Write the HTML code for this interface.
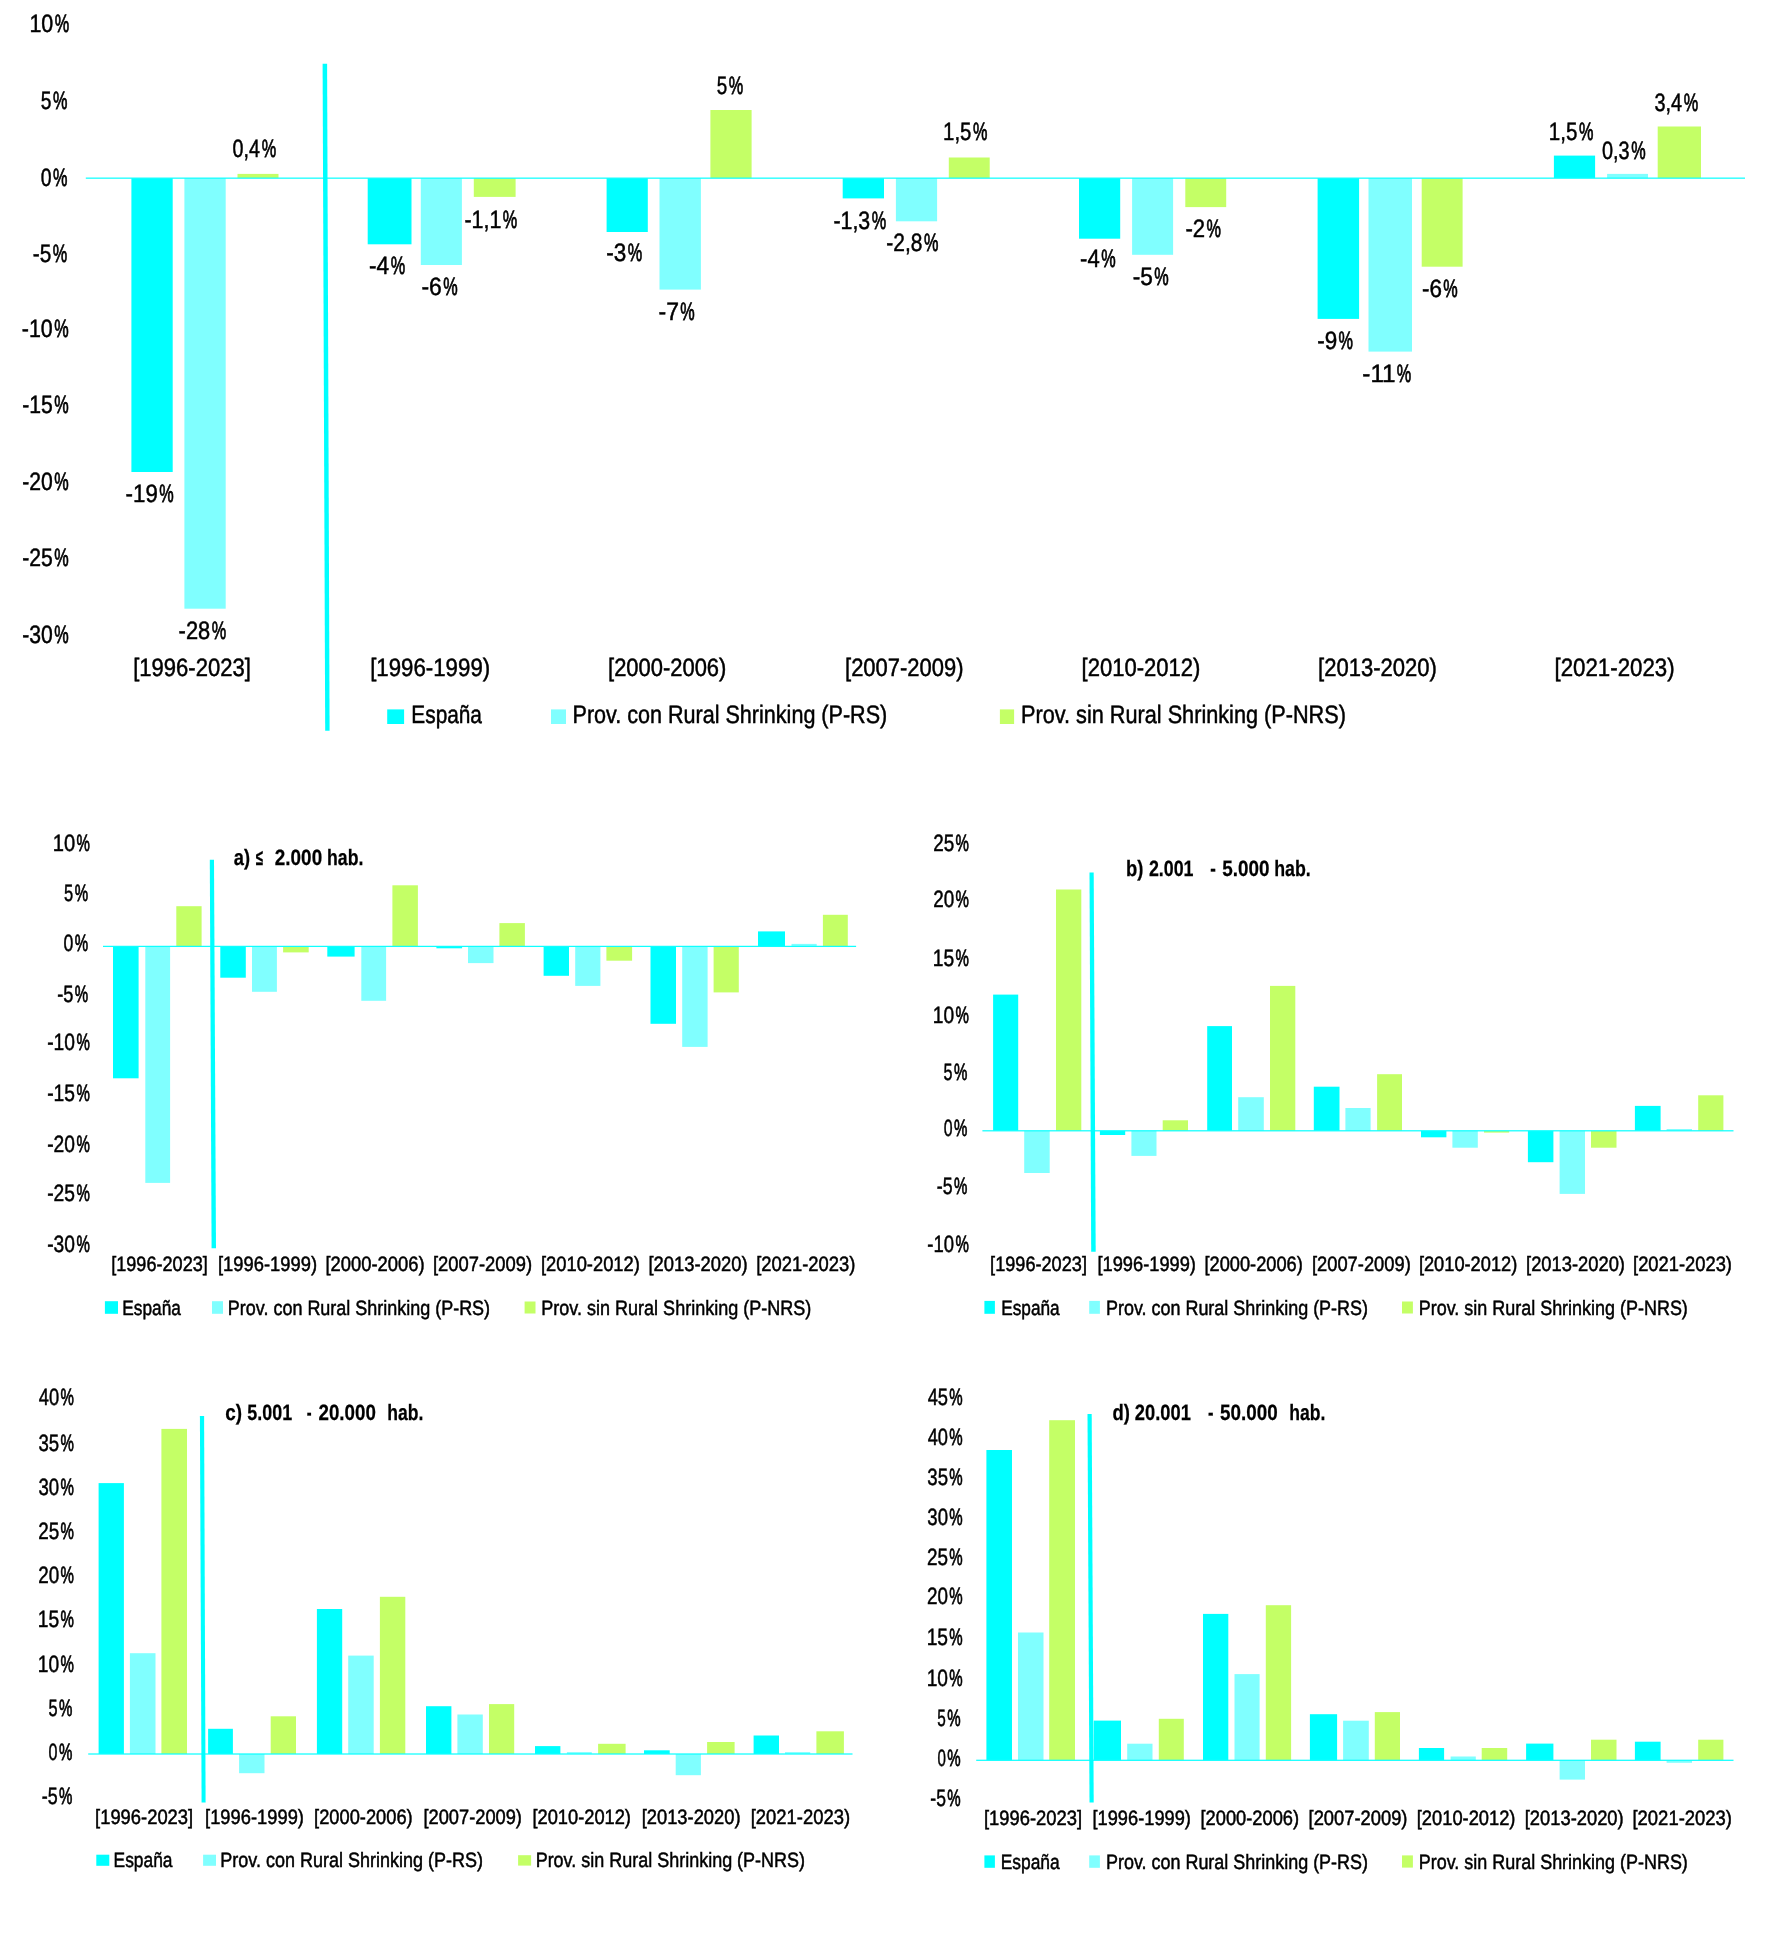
<!DOCTYPE html>
<html><head><meta charset="utf-8"><title>Chart</title>
<style>html,body{margin:0;padding:0;background:#fff;width:1772px;height:1939px;overflow:hidden}svg{display:block}text{font-family:"Liberation Sans",sans-serif;fill:#000;text-rendering:geometricPrecision}</style></head>
<body><svg style="will-change:transform" width="1772" height="1939" viewBox="0 0 1772 1939">
<rect width="1772" height="1939" fill="#fff"/>
<rect x="131.4" y="178.15" width="41.3" height="293.85" fill="#00FFFF"/>
<rect x="184.4" y="178.15" width="41.3" height="430.55" fill="#80FFFF"/>
<rect x="237.5" y="173.9" width="41" height="4.25" fill="#C4FF66"/>
<rect x="367.7" y="178.15" width="43.8" height="66.15" fill="#00FFFF"/>
<rect x="420.8" y="178.15" width="41.1" height="86.85" fill="#80FFFF"/>
<rect x="473.8" y="178.15" width="41.8" height="18.75" fill="#C4FF66"/>
<rect x="606.6" y="178.15" width="41.2" height="53.85" fill="#00FFFF"/>
<rect x="659.5" y="178.15" width="41.4" height="111.45" fill="#80FFFF"/>
<rect x="710.4" y="110" width="41.2" height="68.15" fill="#C4FF66"/>
<rect x="842.7" y="178.15" width="41.3" height="20.25" fill="#00FFFF"/>
<rect x="895.9" y="178.15" width="41.2" height="43.15" fill="#80FFFF"/>
<rect x="948.8" y="157.5" width="40.9" height="20.65" fill="#C4FF66"/>
<rect x="1079" y="178.15" width="41.2" height="60.55" fill="#00FFFF"/>
<rect x="1132.1" y="178.15" width="41" height="76.65" fill="#80FFFF"/>
<rect x="1185.3" y="178.15" width="40.9" height="28.95" fill="#C4FF66"/>
<rect x="1317.6" y="178.15" width="41.5" height="140.75" fill="#00FFFF"/>
<rect x="1368.5" y="178.15" width="43.5" height="173.45" fill="#80FFFF"/>
<rect x="1421.7" y="178.15" width="40.9" height="88.55" fill="#C4FF66"/>
<rect x="1553.9" y="155.6" width="41.2" height="22.55" fill="#00FFFF"/>
<rect x="1607.1" y="173.9" width="40.9" height="4.25" fill="#80FFFF"/>
<rect x="1657.7" y="126.5" width="43.3" height="51.65" fill="#C4FF66"/>
<rect x="113" y="946.4" width="25.6" height="131.9" fill="#00FFFF"/>
<rect x="145.3" y="946.4" width="24.8" height="236.5" fill="#80FFFF"/>
<rect x="176.3" y="906.2" width="25.3" height="40.2" fill="#C4FF66"/>
<rect x="220.3" y="946.4" width="25.5" height="31.3" fill="#00FFFF"/>
<rect x="252" y="946.4" width="24.9" height="45.4" fill="#80FFFF"/>
<rect x="283.1" y="946.4" width="25.6" height="6" fill="#C4FF66"/>
<rect x="327.3" y="946.4" width="27.3" height="10.2" fill="#00FFFF"/>
<rect x="361.3" y="946.4" width="24.8" height="54.4" fill="#80FFFF"/>
<rect x="392.4" y="885.3" width="25.5" height="61.1" fill="#C4FF66"/>
<rect x="436.4" y="946.4" width="25.7" height="1.9" fill="#00FFFF"/>
<rect x="468" y="946.4" width="25.5" height="16.7" fill="#80FFFF"/>
<rect x="499.4" y="923.1" width="25.5" height="23.3" fill="#C4FF66"/>
<rect x="543.6" y="946.4" width="25.4" height="29.4" fill="#00FFFF"/>
<rect x="575.2" y="946.4" width="25.2" height="39.5" fill="#80FFFF"/>
<rect x="606.4" y="946.4" width="25.7" height="14.3" fill="#C4FF66"/>
<rect x="650.5" y="946.4" width="25.5" height="77.4" fill="#00FFFF"/>
<rect x="682.2" y="946.4" width="25.4" height="100.5" fill="#80FFFF"/>
<rect x="713.6" y="946.4" width="25.2" height="46" fill="#C4FF66"/>
<rect x="758" y="931.4" width="27" height="15" fill="#00FFFF"/>
<rect x="791.5" y="943.9" width="25.2" height="2.5" fill="#80FFFF"/>
<rect x="822.9" y="914.8" width="24.9" height="31.6" fill="#C4FF66"/>
<rect x="993.1" y="994.6" width="25.1" height="136.2" fill="#00FFFF"/>
<rect x="1024.2" y="1130.8" width="25.5" height="42.2" fill="#80FFFF"/>
<rect x="1056" y="889.5" width="25.3" height="241.3" fill="#C4FF66"/>
<rect x="1099.9" y="1130.8" width="25.3" height="4.2" fill="#00FFFF"/>
<rect x="1131.4" y="1130.8" width="25.1" height="25.1" fill="#80FFFF"/>
<rect x="1162.7" y="1120.3" width="25.3" height="10.5" fill="#C4FF66"/>
<rect x="1207.2" y="1026.1" width="24.8" height="104.7" fill="#00FFFF"/>
<rect x="1238.2" y="1097.2" width="25.6" height="33.6" fill="#80FFFF"/>
<rect x="1270" y="985.9" width="25.3" height="144.9" fill="#C4FF66"/>
<rect x="1313.8" y="1086.7" width="25.7" height="44.1" fill="#00FFFF"/>
<rect x="1345.4" y="1108" width="25.2" height="22.8" fill="#80FFFF"/>
<rect x="1377.1" y="1074.2" width="24.9" height="56.6" fill="#C4FF66"/>
<rect x="1421" y="1130.8" width="25.4" height="6.5" fill="#00FFFF"/>
<rect x="1452.4" y="1130.8" width="25.4" height="16.9" fill="#80FFFF"/>
<rect x="1484" y="1130.8" width="25.2" height="1.8" fill="#C4FF66"/>
<rect x="1527.9" y="1130.8" width="25.5" height="31.4" fill="#00FFFF"/>
<rect x="1559.6" y="1130.8" width="25.4" height="63.1" fill="#80FFFF"/>
<rect x="1591" y="1130.8" width="25.5" height="16.9" fill="#C4FF66"/>
<rect x="1634.9" y="1105.9" width="25.7" height="24.9" fill="#00FFFF"/>
<rect x="1666.6" y="1129" width="25.4" height="1.8" fill="#80FFFF"/>
<rect x="1698.2" y="1095.3" width="25.2" height="35.5" fill="#C4FF66"/>
<rect x="98.6" y="1483.1" width="25.3" height="270.9" fill="#00FFFF"/>
<rect x="129.9" y="1653.2" width="25.6" height="100.8" fill="#80FFFF"/>
<rect x="161.4" y="1428.9" width="25.6" height="325.1" fill="#C4FF66"/>
<rect x="208.1" y="1728.8" width="24.8" height="25.2" fill="#00FFFF"/>
<rect x="239.1" y="1754" width="25.4" height="19.2" fill="#80FFFF"/>
<rect x="270.7" y="1716.3" width="25.3" height="37.7" fill="#C4FF66"/>
<rect x="316.9" y="1609" width="25.3" height="145" fill="#00FFFF"/>
<rect x="348.2" y="1655.6" width="25.5" height="98.4" fill="#80FFFF"/>
<rect x="379.9" y="1596.8" width="25.4" height="157.2" fill="#C4FF66"/>
<rect x="426" y="1706.2" width="25.4" height="47.8" fill="#00FFFF"/>
<rect x="457.4" y="1714.5" width="25.4" height="39.5" fill="#80FFFF"/>
<rect x="489" y="1704.1" width="25.2" height="49.9" fill="#C4FF66"/>
<rect x="535" y="1746.1" width="25.4" height="7.9" fill="#00FFFF"/>
<rect x="566.9" y="1752.1" width="24.9" height="1.9" fill="#80FFFF"/>
<rect x="598.1" y="1743.8" width="27.5" height="10.2" fill="#C4FF66"/>
<rect x="644" y="1750.3" width="25.7" height="3.7" fill="#00FFFF"/>
<rect x="675.7" y="1754" width="25.2" height="21.2" fill="#80FFFF"/>
<rect x="707.1" y="1742" width="27.5" height="12" fill="#C4FF66"/>
<rect x="753.6" y="1735.5" width="25.4" height="18.5" fill="#00FFFF"/>
<rect x="785" y="1752.1" width="25.2" height="1.9" fill="#80FFFF"/>
<rect x="816.4" y="1731.3" width="27.5" height="22.7" fill="#C4FF66"/>
<rect x="986.4" y="1450" width="25.6" height="310.3" fill="#00FFFF"/>
<rect x="1018" y="1632.5" width="25.5" height="127.8" fill="#80FFFF"/>
<rect x="1049.2" y="1420.2" width="25.8" height="340.1" fill="#C4FF66"/>
<rect x="1093.7" y="1720.6" width="27.3" height="39.7" fill="#00FFFF"/>
<rect x="1127.2" y="1743.7" width="25.3" height="16.6" fill="#80FFFF"/>
<rect x="1158.8" y="1718.8" width="25" height="41.5" fill="#C4FF66"/>
<rect x="1203" y="1613.9" width="25.3" height="146.4" fill="#00FFFF"/>
<rect x="1234.5" y="1674.1" width="25.1" height="86.2" fill="#80FFFF"/>
<rect x="1265.8" y="1605.2" width="25.3" height="155.1" fill="#C4FF66"/>
<rect x="1309.9" y="1714.2" width="27.2" height="46.1" fill="#00FFFF"/>
<rect x="1343.1" y="1720.7" width="25.7" height="39.6" fill="#80FFFF"/>
<rect x="1374.8" y="1712.1" width="25.2" height="48.2" fill="#C4FF66"/>
<rect x="1418.9" y="1748" width="25.2" height="12.3" fill="#00FFFF"/>
<rect x="1450.6" y="1756.5" width="25.2" height="3.8" fill="#80FFFF"/>
<rect x="1481.7" y="1748" width="25.5" height="12.3" fill="#C4FF66"/>
<rect x="1526.1" y="1743.6" width="27.3" height="16.7" fill="#00FFFF"/>
<rect x="1559.6" y="1760.3" width="25.4" height="19.3" fill="#80FFFF"/>
<rect x="1591" y="1739.7" width="25.5" height="20.6" fill="#C4FF66"/>
<rect x="1634.9" y="1741.7" width="25.7" height="18.6" fill="#00FFFF"/>
<rect x="1666.6" y="1760.3" width="25.4" height="2.5" fill="#80FFFF"/>
<rect x="1698.2" y="1739.7" width="25.2" height="20.6" fill="#C4FF66"/>
<rect x="85.8" y="177.53" width="1659.2" height="1.25" fill="#10FFFF"/>
<polygon points="322.6,63.7 327.1,63.7 329.6,730.8 325.2,730.8" fill="#00FFFF"/>
<rect x="103" y="945.77" width="753.1" height="1.25" fill="#10FFFF"/>
<polygon points="209.8,859.7 214,859.7 216,1248.2 211.6,1248.2" fill="#00FFFF"/>
<rect x="982.4" y="1130.17" width="751.1" height="1.25" fill="#10FFFF"/>
<polygon points="1089.5,872.6 1093.7,872.6 1095.7,1251.7 1091.2,1251.7" fill="#00FFFF"/>
<rect x="88.2" y="1753.38" width="764.3" height="1.25" fill="#10FFFF"/>
<polygon points="199.9,1416 204.1,1416 205.6,1802.5 201.6,1802.5" fill="#00FFFF"/>
<rect x="976.2" y="1759.67" width="757.3" height="1.25" fill="#10FFFF"/>
<polygon points="1087.5,1414 1091.7,1414 1093.7,1802.5 1089.5,1802.5" fill="#00FFFF"/>
<rect x="387.2" y="709.4" width="16.9" height="14.6" fill="#00FFFF"/>
<rect x="551" y="709.4" width="15" height="14.6" fill="#80FFFF"/>
<rect x="999.9" y="709.4" width="14.2" height="14.6" fill="#C4FF66"/>
<rect x="104.9" y="1301.2" width="13.1" height="12.6" fill="#00FFFF"/>
<rect x="212" y="1301.2" width="11" height="12.6" fill="#80FFFF"/>
<rect x="524.6" y="1301.5" width="10.9" height="12" fill="#C4FF66"/>
<rect x="984.4" y="1300.9" width="10.5" height="12.9" fill="#00FFFF"/>
<rect x="1089.2" y="1300.9" width="10.7" height="12.9" fill="#80FFFF"/>
<rect x="1402" y="1301.5" width="10.9" height="12" fill="#C4FF66"/>
<rect x="96.3" y="1854.7" width="13" height="11.1" fill="#00FFFF"/>
<rect x="203.1" y="1854.7" width="12.9" height="11.1" fill="#80FFFF"/>
<rect x="518.1" y="1855.2" width="13" height="10.4" fill="#C4FF66"/>
<rect x="984.4" y="1855.4" width="10.5" height="12.4" fill="#00FFFF"/>
<rect x="1089.2" y="1855.4" width="10.7" height="12.4" fill="#80FFFF"/>
<rect x="1402" y="1855.4" width="10.9" height="12.2" fill="#C4FF66"/>
<text transform="matrix(0.8527 0 0 1 29.41 32.00)" font-size="25.2" stroke="#000" stroke-width="0.5" xml:space="preserve">10</text>
<text transform="matrix(0.6441 0 0 1 54.83 32.00)" font-size="25.2" stroke="#000" stroke-width="0.8" xml:space="preserve">%</text>
<text transform="matrix(0.7622 0 0 1 40.81 108.90)" font-size="25.2" stroke="#000" stroke-width="0.5" xml:space="preserve">5</text>
<text transform="matrix(0.6441 0 0 1 53.03 108.90)" font-size="25.2" stroke="#000" stroke-width="0.8" xml:space="preserve">%</text>
<text transform="matrix(0.7708 0 0 1 40.64 185.90)" font-size="25.2" stroke="#000" stroke-width="0.5" xml:space="preserve">0</text>
<text transform="matrix(0.6441 0 0 1 53.03 185.90)" font-size="25.2" stroke="#000" stroke-width="0.8" xml:space="preserve">%</text>
<text transform="matrix(0.8251 0 0 1 32.86 261.60)" font-size="25.2" stroke="#000" stroke-width="0.5" xml:space="preserve">-5</text>
<text transform="matrix(0.6441 0 0 1 52.83 261.60)" font-size="25.2" stroke="#000" stroke-width="0.8" xml:space="preserve">%</text>
<text transform="matrix(0.8482 0 0 1 21.84 337.20)" font-size="25.2" stroke="#000" stroke-width="0.5" xml:space="preserve">-10</text>
<text transform="matrix(0.6441 0 0 1 54.23 337.20)" font-size="25.2" stroke="#000" stroke-width="0.8" xml:space="preserve">%</text>
<text transform="matrix(0.8410 0 0 1 22.15 413.00)" font-size="25.2" stroke="#000" stroke-width="0.5" xml:space="preserve">-15</text>
<text transform="matrix(0.6441 0 0 1 54.23 413.00)" font-size="25.2" stroke="#000" stroke-width="0.8" xml:space="preserve">%</text>
<text transform="matrix(0.8396 0 0 1 22.15 489.90)" font-size="25.2" stroke="#000" stroke-width="0.5" xml:space="preserve">-20</text>
<text transform="matrix(0.6441 0 0 1 54.23 489.90)" font-size="25.2" stroke="#000" stroke-width="0.8" xml:space="preserve">%</text>
<text transform="matrix(0.8410 0 0 1 22.15 566.20)" font-size="25.2" stroke="#000" stroke-width="0.5" xml:space="preserve">-25</text>
<text transform="matrix(0.6441 0 0 1 54.23 566.20)" font-size="25.2" stroke="#000" stroke-width="0.8" xml:space="preserve">%</text>
<text transform="matrix(0.8396 0 0 1 22.15 643.20)" font-size="25.2" stroke="#000" stroke-width="0.5" xml:space="preserve">-30</text>
<text transform="matrix(0.6441 0 0 1 54.23 643.20)" font-size="25.2" stroke="#000" stroke-width="0.8" xml:space="preserve">%</text>
<text transform="matrix(0.8838 0 0 1 125.60 501.80)" font-size="25.2" stroke="#000" stroke-width="0.5" xml:space="preserve">-19</text>
<text transform="matrix(0.6441 0 0 1 159.13 501.80)" font-size="25.2" stroke="#000" stroke-width="0.8" xml:space="preserve">%</text>
<text transform="matrix(0.8676 0 0 1 178.62 639.20)" font-size="25.2" stroke="#000" stroke-width="0.5" xml:space="preserve">-28</text>
<text transform="matrix(0.6441 0 0 1 211.63 639.20)" font-size="25.2" stroke="#000" stroke-width="0.8" xml:space="preserve">%</text>
<text transform="matrix(0.7808 0 0 1 232.54 156.70)" font-size="25.2" stroke="#000" stroke-width="0.5" xml:space="preserve">0,4</text>
<text transform="matrix(0.6441 0 0 1 261.63 156.70)" font-size="25.2" stroke="#000" stroke-width="0.8" xml:space="preserve">%</text>
<text transform="matrix(0.8989 0 0 1 369.08 273.80)" font-size="25.2" stroke="#000" stroke-width="0.5" xml:space="preserve">-4</text>
<text transform="matrix(0.6441 0 0 1 390.83 273.80)" font-size="25.2" stroke="#000" stroke-width="0.8" xml:space="preserve">%</text>
<text transform="matrix(0.9092 0 0 1 421.47 294.80)" font-size="25.2" stroke="#000" stroke-width="0.5" xml:space="preserve">-6</text>
<text transform="matrix(0.6441 0 0 1 443.23 294.80)" font-size="25.2" stroke="#000" stroke-width="0.8" xml:space="preserve">%</text>
<text transform="matrix(0.8521 0 0 1 464.43 227.60)" font-size="25.2" stroke="#000" stroke-width="0.5" xml:space="preserve">-1,1</text>
<text transform="matrix(0.6441 0 0 1 502.83 227.60)" font-size="25.2" stroke="#000" stroke-width="0.8" xml:space="preserve">%</text>
<text transform="matrix(0.8942 0 0 1 606.19 261.20)" font-size="25.2" stroke="#000" stroke-width="0.5" xml:space="preserve">-3</text>
<text transform="matrix(0.6441 0 0 1 627.63 261.20)" font-size="25.2" stroke="#000" stroke-width="0.8" xml:space="preserve">%</text>
<text transform="matrix(0.9135 0 0 1 658.56 319.60)" font-size="25.2" stroke="#000" stroke-width="0.5" xml:space="preserve">-7</text>
<text transform="matrix(0.6441 0 0 1 680.33 319.60)" font-size="25.2" stroke="#000" stroke-width="0.8" xml:space="preserve">%</text>
<text transform="matrix(0.7458 0 0 1 716.73 93.60)" font-size="25.2" stroke="#000" stroke-width="0.5" xml:space="preserve">5</text>
<text transform="matrix(0.6441 0 0 1 728.73 93.60)" font-size="25.2" stroke="#000" stroke-width="0.8" xml:space="preserve">%</text>
<text transform="matrix(0.8466 0 0 1 833.44 228.90)" font-size="25.2" stroke="#000" stroke-width="0.5" xml:space="preserve">-1,3</text>
<text transform="matrix(0.6441 0 0 1 871.63 228.90)" font-size="25.2" stroke="#000" stroke-width="0.8" xml:space="preserve">%</text>
<text transform="matrix(0.8322 0 0 1 886.36 251.20)" font-size="25.2" stroke="#000" stroke-width="0.5" xml:space="preserve">-2,8</text>
<text transform="matrix(0.6441 0 0 1 923.93 251.20)" font-size="25.2" stroke="#000" stroke-width="0.8" xml:space="preserve">%</text>
<text transform="matrix(0.8096 0 0 1 943.08 139.50)" font-size="25.2" stroke="#000" stroke-width="0.5" xml:space="preserve">1,5</text>
<text transform="matrix(0.6441 0 0 1 972.93 139.50)" font-size="25.2" stroke="#000" stroke-width="0.8" xml:space="preserve">%</text>
<text transform="matrix(0.8748 0 0 1 1080.11 267.40)" font-size="25.2" stroke="#000" stroke-width="0.5" xml:space="preserve">-4</text>
<text transform="matrix(0.6441 0 0 1 1101.33 267.40)" font-size="25.2" stroke="#000" stroke-width="0.8" xml:space="preserve">%</text>
<text transform="matrix(0.8981 0 0 1 1132.68 284.80)" font-size="25.2" stroke="#000" stroke-width="0.5" xml:space="preserve">-5</text>
<text transform="matrix(0.6441 0 0 1 1154.23 284.80)" font-size="25.2" stroke="#000" stroke-width="0.8" xml:space="preserve">%</text>
<text transform="matrix(0.8781 0 0 1 1185.40 236.90)" font-size="25.2" stroke="#000" stroke-width="0.5" xml:space="preserve">-2</text>
<text transform="matrix(0.6441 0 0 1 1206.43 236.90)" font-size="25.2" stroke="#000" stroke-width="0.8" xml:space="preserve">%</text>
<text transform="matrix(0.8923 0 0 1 1317.19 348.90)" font-size="25.2" stroke="#000" stroke-width="0.5" xml:space="preserve">-9</text>
<text transform="matrix(0.6441 0 0 1 1338.53 348.90)" font-size="25.2" stroke="#000" stroke-width="0.8" xml:space="preserve">%</text>
<text transform="matrix(0.9649 0 0 1 1362.31 381.60)" font-size="25.2" stroke="#000" stroke-width="0.5" xml:space="preserve">-11</text>
<text transform="matrix(0.6441 0 0 1 1396.83 381.60)" font-size="25.2" stroke="#000" stroke-width="0.8" xml:space="preserve">%</text>
<text transform="matrix(0.8897 0 0 1 1421.99 296.50)" font-size="25.2" stroke="#000" stroke-width="0.5" xml:space="preserve">-6</text>
<text transform="matrix(0.6441 0 0 1 1443.33 296.50)" font-size="25.2" stroke="#000" stroke-width="0.8" xml:space="preserve">%</text>
<text transform="matrix(0.8157 0 0 1 1548.87 139.80)" font-size="25.2" stroke="#000" stroke-width="0.5" xml:space="preserve">1,5</text>
<text transform="matrix(0.6441 0 0 1 1578.93 139.80)" font-size="25.2" stroke="#000" stroke-width="0.8" xml:space="preserve">%</text>
<text transform="matrix(0.7887 0 0 1 1602.03 158.60)" font-size="25.2" stroke="#000" stroke-width="0.5" xml:space="preserve">0,3</text>
<text transform="matrix(0.6441 0 0 1 1631.13 158.60)" font-size="25.2" stroke="#000" stroke-width="0.8" xml:space="preserve">%</text>
<text transform="matrix(0.7877 0 0 1 1654.50 111.20)" font-size="25.2" stroke="#000" stroke-width="0.5" xml:space="preserve">3,4</text>
<text transform="matrix(0.6441 0 0 1 1683.83 111.20)" font-size="25.2" stroke="#000" stroke-width="0.8" xml:space="preserve">%</text>
<text transform="matrix(0.8751 0 0 1 133.14 675.80)" font-size="25.2" stroke="#000" stroke-width="0.5" xml:space="preserve">[1996-2023]</text>
<text transform="matrix(0.8837 0 0 1 370.13 675.80)" font-size="25.2" stroke="#000" stroke-width="0.5" xml:space="preserve">[1996-1999)</text>
<text transform="matrix(0.8709 0 0 1 608.05 675.80)" font-size="25.2" stroke="#000" stroke-width="0.5" xml:space="preserve">[2000-2006)</text>
<text transform="matrix(0.8717 0 0 1 845.05 675.80)" font-size="25.2" stroke="#000" stroke-width="0.5" xml:space="preserve">[2007-2009)</text>
<text transform="matrix(0.8754 0 0 1 1081.54 675.80)" font-size="25.2" stroke="#000" stroke-width="0.5" xml:space="preserve">[2010-2012)</text>
<text transform="matrix(0.8754 0 0 1 1318.04 675.80)" font-size="25.2" stroke="#000" stroke-width="0.5" xml:space="preserve">[2013-2020)</text>
<text transform="matrix(0.8837 0 0 1 1554.53 675.80)" font-size="25.2" stroke="#000" stroke-width="0.5" xml:space="preserve">[2021-2023)</text>
<text transform="matrix(0.8259 0 0 1 411.36 723.20)" font-size="25.2" stroke="#000" stroke-width="0.5" xml:space="preserve">España</text>
<text transform="matrix(0.8560 0 0 1 572.51 723.20)" font-size="25.2" stroke="#000" stroke-width="0.5" xml:space="preserve">Prov. con Rural Shrinking (P-RS)</text>
<text transform="matrix(0.8606 0 0 1 1021.10 723.20)" font-size="25.2" stroke="#000" stroke-width="0.5" xml:space="preserve">Prov. sin Rural Shrinking (P-NRS)</text>
<text transform="matrix(0.8539 0 0 1 52.69 850.70)" font-size="23.6" stroke="#000" stroke-width="0.5" xml:space="preserve">10</text>
<text transform="matrix(0.6381 0 0 1 76.45 850.70)" font-size="23.6" stroke="#000" stroke-width="0.8" xml:space="preserve">%</text>
<text transform="matrix(0.6999 0 0 1 64.07 900.90)" font-size="23.6" stroke="#000" stroke-width="0.5" xml:space="preserve">5</text>
<text transform="matrix(0.6381 0 0 1 74.75 900.90)" font-size="23.6" stroke="#000" stroke-width="0.8" xml:space="preserve">%</text>
<text transform="matrix(0.7489 0 0 1 63.41 951.10)" font-size="23.6" stroke="#000" stroke-width="0.5" xml:space="preserve">0</text>
<text transform="matrix(0.6381 0 0 1 74.75 951.10)" font-size="23.6" stroke="#000" stroke-width="0.8" xml:space="preserve">%</text>
<text transform="matrix(0.7728 0 0 1 57.13 1002.20)" font-size="23.6" stroke="#000" stroke-width="0.5" xml:space="preserve">-5</text>
<text transform="matrix(0.6381 0 0 1 74.75 1002.20)" font-size="23.6" stroke="#000" stroke-width="0.8" xml:space="preserve">%</text>
<text transform="matrix(0.8141 0 0 1 47.20 1050.40)" font-size="23.6" stroke="#000" stroke-width="0.5" xml:space="preserve">-10</text>
<text transform="matrix(0.6381 0 0 1 76.45 1050.40)" font-size="23.6" stroke="#000" stroke-width="0.8" xml:space="preserve">%</text>
<text transform="matrix(0.8157 0 0 1 47.20 1101.20)" font-size="23.6" stroke="#000" stroke-width="0.5" xml:space="preserve">-15</text>
<text transform="matrix(0.6381 0 0 1 76.45 1101.20)" font-size="23.6" stroke="#000" stroke-width="0.8" xml:space="preserve">%</text>
<text transform="matrix(0.8141 0 0 1 47.20 1151.60)" font-size="23.6" stroke="#000" stroke-width="0.5" xml:space="preserve">-20</text>
<text transform="matrix(0.6381 0 0 1 76.45 1151.60)" font-size="23.6" stroke="#000" stroke-width="0.8" xml:space="preserve">%</text>
<text transform="matrix(0.8157 0 0 1 47.20 1201.20)" font-size="23.6" stroke="#000" stroke-width="0.5" xml:space="preserve">-25</text>
<text transform="matrix(0.6381 0 0 1 76.45 1201.20)" font-size="23.6" stroke="#000" stroke-width="0.8" xml:space="preserve">%</text>
<text transform="matrix(0.8141 0 0 1 47.20 1252.20)" font-size="23.6" stroke="#000" stroke-width="0.5" xml:space="preserve">-30</text>
<text transform="matrix(0.6381 0 0 1 76.45 1252.20)" font-size="23.6" stroke="#000" stroke-width="0.8" xml:space="preserve">%</text>
<text transform="matrix(0.8008 0 0 1 933.20 850.70)" font-size="23.6" stroke="#000" stroke-width="0.5" xml:space="preserve">25</text>
<text transform="matrix(0.6381 0 0 1 955.55 850.70)" font-size="23.6" stroke="#000" stroke-width="0.8" xml:space="preserve">%</text>
<text transform="matrix(0.7988 0 0 1 933.20 907.10)" font-size="23.6" stroke="#000" stroke-width="0.5" xml:space="preserve">20</text>
<text transform="matrix(0.6381 0 0 1 955.55 907.10)" font-size="23.6" stroke="#000" stroke-width="0.8" xml:space="preserve">%</text>
<text transform="matrix(0.8143 0 0 1 932.85 965.50)" font-size="23.6" stroke="#000" stroke-width="0.5" xml:space="preserve">15</text>
<text transform="matrix(0.6381 0 0 1 955.55 965.50)" font-size="23.6" stroke="#000" stroke-width="0.8" xml:space="preserve">%</text>
<text transform="matrix(0.8122 0 0 1 932.86 1023.10)" font-size="23.6" stroke="#000" stroke-width="0.5" xml:space="preserve">10</text>
<text transform="matrix(0.6381 0 0 1 955.55 1023.10)" font-size="23.6" stroke="#000" stroke-width="0.8" xml:space="preserve">%</text>
<text transform="matrix(0.6828 0 0 1 943.58 1080.20)" font-size="23.6" stroke="#000" stroke-width="0.5" xml:space="preserve">5</text>
<text transform="matrix(0.6381 0 0 1 954.05 1080.20)" font-size="23.6" stroke="#000" stroke-width="0.8" xml:space="preserve">%</text>
<text transform="matrix(0.6732 0 0 1 943.66 1135.90)" font-size="23.6" stroke="#000" stroke-width="0.5" xml:space="preserve">0</text>
<text transform="matrix(0.6381 0 0 1 954.05 1135.90)" font-size="23.6" stroke="#000" stroke-width="0.8" xml:space="preserve">%</text>
<text transform="matrix(0.7524 0 0 1 936.84 1194.30)" font-size="23.6" stroke="#000" stroke-width="0.5" xml:space="preserve">-5</text>
<text transform="matrix(0.6381 0 0 1 954.05 1194.30)" font-size="23.6" stroke="#000" stroke-width="0.8" xml:space="preserve">%</text>
<text transform="matrix(0.7836 0 0 1 927.32 1251.90)" font-size="23.6" stroke="#000" stroke-width="0.5" xml:space="preserve">-10</text>
<text transform="matrix(0.6381 0 0 1 955.55 1251.90)" font-size="23.6" stroke="#000" stroke-width="0.8" xml:space="preserve">%</text>
<text transform="matrix(0.7743 0 0 1 38.83 1405.00)" font-size="23.6" stroke="#000" stroke-width="0.5" xml:space="preserve">40</text>
<text transform="matrix(0.6381 0 0 1 60.55 1405.00)" font-size="23.6" stroke="#000" stroke-width="0.8" xml:space="preserve">%</text>
<text transform="matrix(0.7890 0 0 1 38.50 1451.00)" font-size="23.6" stroke="#000" stroke-width="0.5" xml:space="preserve">35</text>
<text transform="matrix(0.6381 0 0 1 60.55 1451.00)" font-size="23.6" stroke="#000" stroke-width="0.8" xml:space="preserve">%</text>
<text transform="matrix(0.7870 0 0 1 38.50 1494.90)" font-size="23.6" stroke="#000" stroke-width="0.5" xml:space="preserve">30</text>
<text transform="matrix(0.6381 0 0 1 60.55 1494.90)" font-size="23.6" stroke="#000" stroke-width="0.8" xml:space="preserve">%</text>
<text transform="matrix(0.8008 0 0 1 38.20 1539.10)" font-size="23.6" stroke="#000" stroke-width="0.5" xml:space="preserve">25</text>
<text transform="matrix(0.6381 0 0 1 60.55 1539.10)" font-size="23.6" stroke="#000" stroke-width="0.8" xml:space="preserve">%</text>
<text transform="matrix(0.7988 0 0 1 38.20 1583.30)" font-size="23.6" stroke="#000" stroke-width="0.5" xml:space="preserve">20</text>
<text transform="matrix(0.6381 0 0 1 60.55 1583.30)" font-size="23.6" stroke="#000" stroke-width="0.8" xml:space="preserve">%</text>
<text transform="matrix(0.8143 0 0 1 37.85 1627.30)" font-size="23.6" stroke="#000" stroke-width="0.5" xml:space="preserve">15</text>
<text transform="matrix(0.6381 0 0 1 60.55 1627.30)" font-size="23.6" stroke="#000" stroke-width="0.8" xml:space="preserve">%</text>
<text transform="matrix(0.8122 0 0 1 37.86 1671.90)" font-size="23.6" stroke="#000" stroke-width="0.5" xml:space="preserve">10</text>
<text transform="matrix(0.6381 0 0 1 60.55 1671.90)" font-size="23.6" stroke="#000" stroke-width="0.8" xml:space="preserve">%</text>
<text transform="matrix(0.6914 0 0 1 48.47 1715.80)" font-size="23.6" stroke="#000" stroke-width="0.5" xml:space="preserve">5</text>
<text transform="matrix(0.6381 0 0 1 59.05 1715.80)" font-size="23.6" stroke="#000" stroke-width="0.8" xml:space="preserve">%</text>
<text transform="matrix(0.6816 0 0 1 48.55 1759.80)" font-size="23.6" stroke="#000" stroke-width="0.5" xml:space="preserve">0</text>
<text transform="matrix(0.6381 0 0 1 59.05 1759.80)" font-size="23.6" stroke="#000" stroke-width="0.8" xml:space="preserve">%</text>
<text transform="matrix(0.7575 0 0 1 41.74 1804.00)" font-size="23.6" stroke="#000" stroke-width="0.5" xml:space="preserve">-5</text>
<text transform="matrix(0.6381 0 0 1 59.05 1804.00)" font-size="23.6" stroke="#000" stroke-width="0.8" xml:space="preserve">%</text>
<text transform="matrix(0.7762 0 0 1 927.63 1405.00)" font-size="23.6" stroke="#000" stroke-width="0.5" xml:space="preserve">45</text>
<text transform="matrix(0.6381 0 0 1 949.35 1405.00)" font-size="23.6" stroke="#000" stroke-width="0.8" xml:space="preserve">%</text>
<text transform="matrix(0.7743 0 0 1 927.63 1445.30)" font-size="23.6" stroke="#000" stroke-width="0.5" xml:space="preserve">40</text>
<text transform="matrix(0.6381 0 0 1 949.35 1445.30)" font-size="23.6" stroke="#000" stroke-width="0.8" xml:space="preserve">%</text>
<text transform="matrix(0.7890 0 0 1 927.30 1485.20)" font-size="23.6" stroke="#000" stroke-width="0.5" xml:space="preserve">35</text>
<text transform="matrix(0.6381 0 0 1 949.35 1485.20)" font-size="23.6" stroke="#000" stroke-width="0.8" xml:space="preserve">%</text>
<text transform="matrix(0.7870 0 0 1 927.30 1525.00)" font-size="23.6" stroke="#000" stroke-width="0.5" xml:space="preserve">30</text>
<text transform="matrix(0.6381 0 0 1 949.35 1525.00)" font-size="23.6" stroke="#000" stroke-width="0.8" xml:space="preserve">%</text>
<text transform="matrix(0.8008 0 0 1 927.00 1565.20)" font-size="23.6" stroke="#000" stroke-width="0.5" xml:space="preserve">25</text>
<text transform="matrix(0.6381 0 0 1 949.35 1565.20)" font-size="23.6" stroke="#000" stroke-width="0.8" xml:space="preserve">%</text>
<text transform="matrix(0.7988 0 0 1 927.00 1604.40)" font-size="23.6" stroke="#000" stroke-width="0.5" xml:space="preserve">20</text>
<text transform="matrix(0.6381 0 0 1 949.35 1604.40)" font-size="23.6" stroke="#000" stroke-width="0.8" xml:space="preserve">%</text>
<text transform="matrix(0.8143 0 0 1 926.65 1645.20)" font-size="23.6" stroke="#000" stroke-width="0.5" xml:space="preserve">15</text>
<text transform="matrix(0.6381 0 0 1 949.35 1645.20)" font-size="23.6" stroke="#000" stroke-width="0.8" xml:space="preserve">%</text>
<text transform="matrix(0.8122 0 0 1 926.66 1686.00)" font-size="23.6" stroke="#000" stroke-width="0.5" xml:space="preserve">10</text>
<text transform="matrix(0.6381 0 0 1 949.35 1686.00)" font-size="23.6" stroke="#000" stroke-width="0.8" xml:space="preserve">%</text>
<text transform="matrix(0.6487 0 0 1 937.31 1725.70)" font-size="23.6" stroke="#000" stroke-width="0.5" xml:space="preserve">5</text>
<text transform="matrix(0.6381 0 0 1 947.35 1725.70)" font-size="23.6" stroke="#000" stroke-width="0.8" xml:space="preserve">%</text>
<text transform="matrix(0.6395 0 0 1 937.38 1766.00)" font-size="23.6" stroke="#000" stroke-width="0.5" xml:space="preserve">0</text>
<text transform="matrix(0.6381 0 0 1 947.35 1766.00)" font-size="23.6" stroke="#000" stroke-width="0.8" xml:space="preserve">%</text>
<text transform="matrix(0.7421 0 0 1 930.35 1805.90)" font-size="23.6" stroke="#000" stroke-width="0.5" xml:space="preserve">-5</text>
<text transform="matrix(0.6381 0 0 1 947.35 1805.90)" font-size="23.6" stroke="#000" stroke-width="0.8" xml:space="preserve">%</text>
<text transform="matrix(0.8706 0 0 1 111.20 1271.10)" font-size="20.8" stroke="#000" stroke-width="0.5" xml:space="preserve">[1996-2023]</text>
<text transform="matrix(0.8834 0 0 1 217.98 1271.10)" font-size="20.8" stroke="#000" stroke-width="0.5" xml:space="preserve">[1996-1999)</text>
<text transform="matrix(0.8834 0 0 1 325.48 1271.10)" font-size="20.8" stroke="#000" stroke-width="0.5" xml:space="preserve">[2000-2006)</text>
<text transform="matrix(0.8834 0 0 1 432.98 1271.10)" font-size="20.8" stroke="#000" stroke-width="0.5" xml:space="preserve">[2007-2009)</text>
<text transform="matrix(0.8815 0 0 1 540.98 1271.10)" font-size="20.8" stroke="#000" stroke-width="0.5" xml:space="preserve">[2010-2012)</text>
<text transform="matrix(0.8834 0 0 1 648.48 1271.10)" font-size="20.8" stroke="#000" stroke-width="0.5" xml:space="preserve">[2013-2020)</text>
<text transform="matrix(0.8834 0 0 1 756.18 1271.10)" font-size="20.8" stroke="#000" stroke-width="0.5" xml:space="preserve">[2021-2023)</text>
<text transform="matrix(0.8724 0 0 1 990.09 1271.10)" font-size="20.8" stroke="#000" stroke-width="0.5" xml:space="preserve">[1996-2023]</text>
<text transform="matrix(0.8788 0 0 1 1097.39 1271.10)" font-size="20.8" stroke="#000" stroke-width="0.5" xml:space="preserve">[1996-1999)</text>
<text transform="matrix(0.8761 0 0 1 1204.49 1271.10)" font-size="20.8" stroke="#000" stroke-width="0.5" xml:space="preserve">[2000-2006)</text>
<text transform="matrix(0.8806 0 0 1 1311.98 1271.10)" font-size="20.8" stroke="#000" stroke-width="0.5" xml:space="preserve">[2007-2009)</text>
<text transform="matrix(0.8770 0 0 1 1418.89 1271.10)" font-size="20.8" stroke="#000" stroke-width="0.5" xml:space="preserve">[2010-2012)</text>
<text transform="matrix(0.8815 0 0 1 1526.08 1271.10)" font-size="20.8" stroke="#000" stroke-width="0.5" xml:space="preserve">[2013-2020)</text>
<text transform="matrix(0.8815 0 0 1 1633.08 1271.10)" font-size="20.8" stroke="#000" stroke-width="0.5" xml:space="preserve">[2021-2023)</text>
<text transform="matrix(0.8835 0 0 1 95.08 1823.50)" font-size="20.8" stroke="#000" stroke-width="0.5" xml:space="preserve">[1996-2023]</text>
<text transform="matrix(0.8815 0 0 1 205.08 1823.50)" font-size="20.8" stroke="#000" stroke-width="0.5" xml:space="preserve">[1996-1999)</text>
<text transform="matrix(0.8788 0 0 1 314.09 1823.50)" font-size="20.8" stroke="#000" stroke-width="0.5" xml:space="preserve">[2000-2006)</text>
<text transform="matrix(0.8788 0 0 1 423.39 1823.50)" font-size="20.8" stroke="#000" stroke-width="0.5" xml:space="preserve">[2007-2009)</text>
<text transform="matrix(0.8788 0 0 1 532.39 1823.50)" font-size="20.8" stroke="#000" stroke-width="0.5" xml:space="preserve">[2010-2012)</text>
<text transform="matrix(0.8815 0 0 1 641.68 1823.50)" font-size="20.8" stroke="#000" stroke-width="0.5" xml:space="preserve">[2013-2020)</text>
<text transform="matrix(0.8861 0 0 1 750.68 1823.50)" font-size="20.8" stroke="#000" stroke-width="0.5" xml:space="preserve">[2021-2023)</text>
<text transform="matrix(0.8844 0 0 1 983.88 1825.20)" font-size="20.8" stroke="#000" stroke-width="0.5" xml:space="preserve">[1996-2023]</text>
<text transform="matrix(0.8779 0 0 1 1092.49 1825.20)" font-size="20.8" stroke="#000" stroke-width="0.5" xml:space="preserve">[1996-1999)</text>
<text transform="matrix(0.8788 0 0 1 1200.49 1825.20)" font-size="20.8" stroke="#000" stroke-width="0.5" xml:space="preserve">[2000-2006)</text>
<text transform="matrix(0.8815 0 0 1 1308.58 1825.20)" font-size="20.8" stroke="#000" stroke-width="0.5" xml:space="preserve">[2007-2009)</text>
<text transform="matrix(0.8797 0 0 1 1416.79 1825.20)" font-size="20.8" stroke="#000" stroke-width="0.5" xml:space="preserve">[2010-2012)</text>
<text transform="matrix(0.8815 0 0 1 1524.78 1825.20)" font-size="20.8" stroke="#000" stroke-width="0.5" xml:space="preserve">[2013-2020)</text>
<text transform="matrix(0.8870 0 0 1 1632.48 1825.20)" font-size="20.8" stroke="#000" stroke-width="0.5" xml:space="preserve">[2021-2023)</text>
<text transform="matrix(0.8300 0 0 1 122.29 1315.00)" font-size="20.8" stroke="#000" stroke-width="0.5" xml:space="preserve">España</text>
<text transform="matrix(0.8638 0 0 1 227.84 1315.00)" font-size="20.8" stroke="#000" stroke-width="0.5" xml:space="preserve">Prov. con Rural Shrinking (P-RS)</text>
<text transform="matrix(0.8661 0 0 1 541.34 1315.00)" font-size="20.8" stroke="#000" stroke-width="0.5" xml:space="preserve">Prov. sin Rural Shrinking (P-NRS)</text>
<text transform="matrix(0.8286 0 0 1 1001.19 1315.00)" font-size="20.8" stroke="#000" stroke-width="0.5" xml:space="preserve">España</text>
<text transform="matrix(0.8632 0 0 1 1105.94 1315.00)" font-size="20.8" stroke="#000" stroke-width="0.5" xml:space="preserve">Prov. con Rural Shrinking (P-RS)</text>
<text transform="matrix(0.8635 0 0 1 1418.74 1315.00)" font-size="20.8" stroke="#000" stroke-width="0.5" xml:space="preserve">Prov. sin Rural Shrinking (P-NRS)</text>
<text transform="matrix(0.8358 0 0 1 113.58 1866.80)" font-size="20.8" stroke="#000" stroke-width="0.5" xml:space="preserve">España</text>
<text transform="matrix(0.8655 0 0 1 220.34 1866.80)" font-size="20.8" stroke="#000" stroke-width="0.5" xml:space="preserve">Prov. con Rural Shrinking (P-RS)</text>
<text transform="matrix(0.8644 0 0 1 535.64 1866.80)" font-size="20.8" stroke="#000" stroke-width="0.5" xml:space="preserve">Prov. sin Rural Shrinking (P-NRS)</text>
<text transform="matrix(0.8358 0 0 1 1000.68 1868.70)" font-size="20.8" stroke="#000" stroke-width="0.5" xml:space="preserve">España</text>
<text transform="matrix(0.8632 0 0 1 1105.94 1868.70)" font-size="20.8" stroke="#000" stroke-width="0.5" xml:space="preserve">Prov. con Rural Shrinking (P-RS)</text>
<text transform="matrix(0.8635 0 0 1 1418.74 1868.70)" font-size="20.8" stroke="#000" stroke-width="0.5" xml:space="preserve">Prov. sin Rural Shrinking (P-NRS)</text>
<text transform="matrix(0.8231 0 0 1 233.83 864.60)" font-size="22.2" font-weight="700" stroke="#000" stroke-width="0.25" xml:space="preserve">a)</text>
<text transform="matrix(0.6017 0 0 1 255.72 864.60)" font-size="22.2" font-weight="700" stroke="#000" stroke-width="0.25" xml:space="preserve">≤</text>
<text transform="matrix(0.8517 0 0 1 274.85 864.60)" font-size="22.2" font-weight="700" stroke="#000" stroke-width="0.25" xml:space="preserve">2.000</text>
<text transform="matrix(0.7971 0 0 1 327.03 864.60)" font-size="22.2" font-weight="700" stroke="#000" stroke-width="0.25" xml:space="preserve">hab.</text>
<text transform="matrix(0.8313 0 0 1 1125.92 876.10)" font-size="22.2" font-weight="700" stroke="#000" stroke-width="0.25" xml:space="preserve">b)</text>
<text transform="matrix(0.8041 0 0 1 1148.88 876.10)" font-size="22.2" font-weight="700" stroke="#000" stroke-width="0.25" xml:space="preserve">2.001</text>
<text transform="matrix(0.7564 0 0 1 1210.36 876.10)" font-size="22.2" font-weight="700" stroke="#000" stroke-width="0.25" xml:space="preserve">-</text>
<text transform="matrix(0.8515 0 0 1 1222.16 876.10)" font-size="22.2" font-weight="700" stroke="#000" stroke-width="0.25" xml:space="preserve">5.000</text>
<text transform="matrix(0.8018 0 0 1 1274.22 876.10)" font-size="22.2" font-weight="700" stroke="#000" stroke-width="0.25" xml:space="preserve">hab.</text>
<text transform="matrix(0.8526 0 0 1 225.28 1419.80)" font-size="22.2" font-weight="700" stroke="#000" stroke-width="0.25" xml:space="preserve">c)</text>
<text transform="matrix(0.8076 0 0 1 247.28 1419.80)" font-size="22.2" font-weight="700" stroke="#000" stroke-width="0.25" xml:space="preserve">5.001</text>
<text transform="matrix(0.6556 0 0 1 306.73 1419.80)" font-size="22.2" font-weight="700" stroke="#000" stroke-width="0.25" xml:space="preserve">-</text>
<text transform="matrix(0.8452 0 0 1 318.45 1419.80)" font-size="22.2" font-weight="700" stroke="#000" stroke-width="0.25" xml:space="preserve">20.000</text>
<text transform="matrix(0.7924 0 0 1 387.34 1419.80)" font-size="22.2" font-weight="700" stroke="#000" stroke-width="0.25" xml:space="preserve">hab.</text>
<text transform="matrix(0.8319 0 0 1 1112.41 1419.70)" font-size="22.2" font-weight="700" stroke="#000" stroke-width="0.25" xml:space="preserve">d)</text>
<text transform="matrix(0.8263 0 0 1 1134.87 1419.70)" font-size="22.2" font-weight="700" stroke="#000" stroke-width="0.25" xml:space="preserve">20.001</text>
<text transform="matrix(0.7396 0 0 1 1207.97 1419.70)" font-size="22.2" font-weight="700" stroke="#000" stroke-width="0.25" xml:space="preserve">-</text>
<text transform="matrix(0.8496 0 0 1 1220.06 1419.70)" font-size="22.2" font-weight="700" stroke="#000" stroke-width="0.25" xml:space="preserve">50.000</text>
<text transform="matrix(0.7924 0 0 1 1289.14 1419.70)" font-size="22.2" font-weight="700" stroke="#000" stroke-width="0.25" xml:space="preserve">hab.</text>
</svg></body></html>
